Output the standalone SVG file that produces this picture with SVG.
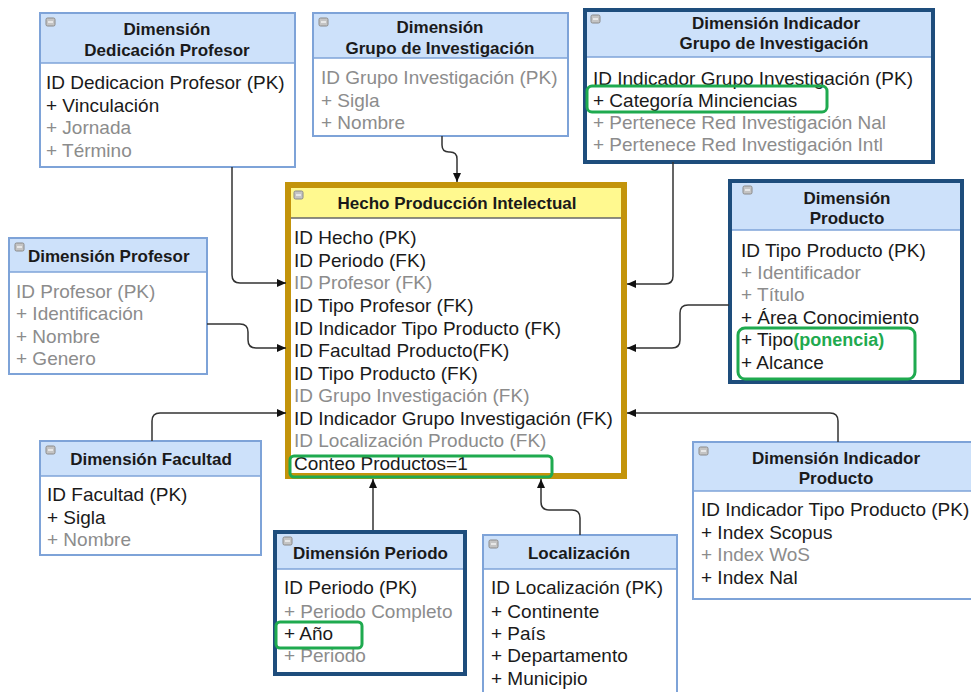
<svg xmlns="http://www.w3.org/2000/svg" width="971" height="692" viewBox="0 0 971 692">
<defs>
<style>
.lb{fill:#fff;stroke:#7ea3d8;stroke-width:2}
.db{fill:#fff;stroke:#1e4d7c;stroke-width:4}
.hd{fill:#cde1fa}
.hl{stroke:#7ea3d8;stroke-width:1.5}
.ic{fill:#c4c4c4;stroke:#8a8a8a;stroke-width:1}
.icl{stroke:#fff;stroke-width:1.2}
.t{font-family:"Liberation Sans",Arial,sans-serif;font-size:17px;font-weight:bold;fill:#1a1a1a;text-anchor:middle}
.tl{text-anchor:start}
.a{font-family:"Liberation Sans",Arial,sans-serif;font-size:19px;fill:#1a1a1a}
.g{fill:#8c8c8c}
.gb{fill:none;stroke:#1faa4f;stroke-width:3}
.c{fill:none;stroke:#333;stroke-width:1.5}
</style>
<marker id="ar" markerUnits="userSpaceOnUse" markerWidth="10" markerHeight="10" refX="9" refY="5" orient="auto">
<path d="M0,1 L9,5 L0,9 Z" fill="#111"/>
</marker>
<g id="icon"><rect class="ic" x="0" y="0" width="9" height="8" rx="1.5"/><line class="icl" x1="2" y1="4" x2="7" y2="4"/></g>
</defs>
<rect width="971" height="692" fill="#fff"/>

<g id="dim-dedicacion">
<rect class="lb" x="40" y="13" width="255" height="154"/>
<rect class="hd" x="41" y="14" width="253" height="49"/>
<line class="hl" x1="40" y1="63" x2="295" y2="63"/>
<use href="#icon" x="46" y="18"/>
<text class="t" x="167" y="35">Dimensión</text>
<text class="t" x="167" y="56">Dedicación Profesor</text>
<text class="a" x="46" y="89">ID Dedicacion Profesor (PK)</text>
<text class="a" x="46" y="112">+ Vinculación</text>
<text class="a g" x="46" y="134">+ Jornada</text>
<text class="a g" x="46" y="157">+ Término</text>
</g>

<g id="dim-grupo">
<rect class="lb" x="313" y="13" width="255" height="123"/>
<rect class="hd" x="314" y="14" width="253" height="44"/>
<line class="hl" x1="313" y1="58" x2="568" y2="58"/>
<use href="#icon" x="319" y="18"/>
<text class="t" x="440" y="33">Dimensión</text>
<text class="t" x="440" y="54">Grupo de Investigación</text>
<text class="a g" x="321" y="84">ID Grupo Investigación (PK)</text>
<text class="a g" x="321" y="107">+ Sigla</text>
<text class="a g" x="321" y="129">+ Nombre</text>
</g>

<g id="dim-indicador-grupo">
<rect class="db" x="585" y="10" width="348" height="152"/>
<rect class="hd" x="587" y="12" width="344" height="45"/>
<line class="hl" x1="587" y1="57" x2="931" y2="57"/>
<use href="#icon" x="591" y="15"/>
<text class="t" x="776" y="29">Dimensión Indicador</text>
<text class="t" x="774" y="49">Grupo de Investigación</text>
<text class="a" x="593" y="85">ID Indicador Grupo Investigación (PK)</text>
<text class="a" x="593" y="107">+ Categoría Minciencias</text>
<text class="a g" x="593" y="129">+ Pertenece Red Investigación Nal</text>
<text class="a g" x="593" y="151">+ Pertenece Red Investigación Intl</text>
<rect class="gb" x="587" y="86" width="240" height="26" rx="5"/>
</g>

<g id="hecho">
<rect x="288" y="185" width="336" height="291" fill="#fff" stroke="#c3940b" stroke-width="6"/>
<rect x="291" y="188" width="330" height="30" fill="#fff98f"/>
<line x1="291" y1="218" x2="621" y2="218" stroke="#666" stroke-width="1.5"/>
<use href="#icon" x="294" y="191"/>
<text class="t" x="457" y="209">Hecho Producción Intelectual</text>
<text class="a" x="294" y="244">ID Hecho (PK)</text>
<text class="a" x="294" y="267">ID Periodo (FK)</text>
<text class="a g" x="294" y="289">ID Profesor (FK)</text>
<text class="a" x="294" y="312">ID Tipo Profesor (FK)</text>
<text class="a" x="294" y="335">ID Indicador Tipo Producto (FK)</text>
<text class="a" x="294" y="357">ID Facultad Producto(FK)</text>
<text class="a" x="294" y="380">ID Tipo Producto (FK)</text>
<text class="a g" x="294" y="402">ID Grupo Investigación (FK)</text>
<text class="a" x="294" y="425">ID Indicador Grupo Investigación (FK)</text>
<text class="a g" x="294" y="447">ID Localización Producto (FK)</text>
<text class="a" x="294" y="470">Conteo Productos=1</text>
<rect class="gb" x="290" y="456" width="262" height="21" rx="4"/>
</g>

<g id="dim-profesor">
<rect class="lb" x="9" y="238" width="198" height="136"/>
<rect class="hd" x="10" y="239" width="196" height="33"/>
<line class="hl" x1="9" y1="272" x2="207" y2="272"/>
<use href="#icon" x="15" y="243"/>
<text class="t tl" x="28" y="262">Dimensión Profesor</text>
<text class="a g" x="16" y="298">ID Profesor (PK)</text>
<text class="a g" x="16" y="320">+ Identificación</text>
<text class="a g" x="16" y="343">+ Nombre</text>
<text class="a g" x="16" y="365">+ Genero</text>
</g>

<g id="dim-facultad">
<rect class="lb" x="40" y="441" width="221" height="114"/>
<rect class="hd" x="41" y="442" width="219" height="34"/>
<line class="hl" x1="40" y1="476" x2="261" y2="476"/>
<use href="#icon" x="46" y="446"/>
<text class="t" x="151" y="465">Dimensión Facultad</text>
<text class="a" x="47" y="501">ID Facultad (PK)</text>
<text class="a" x="47" y="524">+ Sigla</text>
<text class="a g" x="47" y="546">+ Nombre</text>
</g>

<g id="dim-producto">
<rect class="db" x="730" y="181" width="232" height="201"/>
<rect class="hd" x="732" y="183" width="228" height="47"/>
<line class="hl" x1="732" y1="230" x2="960" y2="230"/>
<use href="#icon" x="743" y="186"/>
<text class="t" x="847" y="204">Dimensión</text>
<text class="t" x="847" y="224">Producto</text>
<text class="a" x="741" y="257">ID Tipo Producto (PK)</text>
<text class="a g" x="741" y="279">+ Identificador</text>
<text class="a g" x="741" y="301">+ Título</text>
<text class="a" x="741" y="324">+ Área Conocimiento</text>
<text class="a" x="741" y="346">+ Tipo<tspan fill="#1faa4f" font-weight="bold" font-size="18">(ponencia)</tspan></text>
<text class="a" x="741" y="369">+ Alcance</text>
<rect class="gb" x="738" y="328" width="177" height="51" rx="7"/>
</g>

<g id="dim-indicador-producto">
<rect class="lb" x="693" y="442" width="292" height="157"/>
<rect class="hd" x="694" y="443" width="290" height="48"/>
<line class="hl" x1="693" y1="491" x2="985" y2="491"/>
<use href="#icon" x="699" y="447"/>
<text class="t" x="836" y="464">Dimensión Indicador</text>
<text class="t" x="836" y="484">Producto</text>
<text class="a" x="701" y="516">ID Indicador Tipo Producto (PK)</text>
<text class="a" x="701" y="539">+ Index Scopus</text>
<text class="a g" x="701" y="561">+ Index WoS</text>
<text class="a" x="701" y="584">+ Index Nal</text>
</g>

<g id="dim-periodo">
<rect class="db" x="275" y="532" width="190" height="142"/>
<rect class="hd" x="277" y="534" width="186" height="35"/>
<line class="hl" x1="277" y1="569" x2="463" y2="569"/>
<use href="#icon" x="283" y="537"/>
<text class="t tl" x="293" y="559">Dimensión Periodo</text>
<text class="a" x="284" y="594">ID Periodo (PK)</text>
<text class="a g" x="284" y="618">+ Periodo Completo</text>
<text class="a" x="284" y="640">+ Año</text>
<text class="a g" x="284" y="662">+ Periodo</text>
<rect class="gb" x="276" y="622" width="86" height="26" rx="4"/>
</g>

<g id="localizacion">
<rect class="lb" x="483" y="535" width="194" height="170"/>
<rect class="hd" x="484" y="536" width="192" height="33"/>
<line class="hl" x1="483" y1="569" x2="677" y2="569"/>
<use href="#icon" x="489" y="540"/>
<text class="t" x="579" y="559">Localización</text>
<text class="a" x="491" y="594">ID Localización (PK)</text>
<text class="a" x="491" y="618">+ Continente</text>
<text class="a" x="491" y="640">+ País</text>
<text class="a" x="491" y="662">+ Departamento</text>
<text class="a" x="491" y="685">+ Municipio</text>
</g>

<g id="connectors">
<path class="c" d="M232,167 V275 Q232,283 240,283 H286" marker-end="url(#ar)"/>
<path class="c" d="M207,324 H240 Q248,324 248,332 V340 Q248,348 256,348 H286" marker-end="url(#ar)"/>
<path class="c" d="M152,441 V421 Q152,413 160,413 H286" marker-end="url(#ar)"/>
<path class="c" d="M442,136 V145 Q442,152 449,152 H450 Q457,152 457,159 V182" marker-end="url(#ar)"/>
<path class="c" d="M673,162 V276 Q673,284 665,284 H627" marker-end="url(#ar)"/>
<path class="c" d="M729,305 H688 Q680,305 680,313 V340 Q680,348 672,348 H627" marker-end="url(#ar)"/>
<path class="c" d="M838,442 V421 Q838,413 830,413 H627" marker-end="url(#ar)"/>
<path class="c" d="M373,530 V479" stroke="#555" stroke-width="2" marker-end="url(#ar)"/>
<path class="c" d="M580,535 V518 Q580,510 572,510 H549 Q541,510 541,502 V479" marker-end="url(#ar)"/>
</g>
</svg>
